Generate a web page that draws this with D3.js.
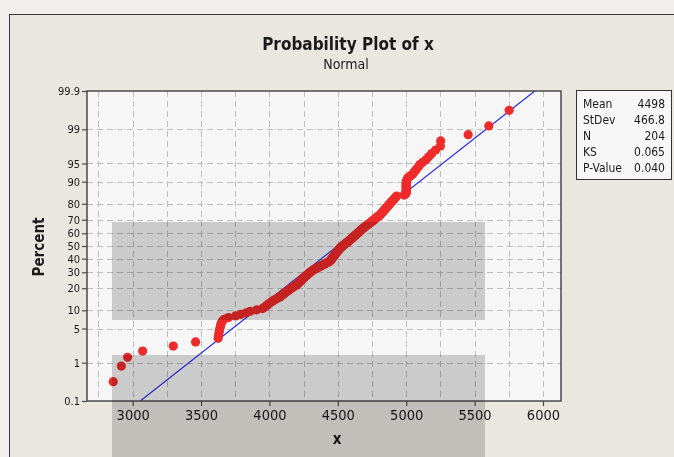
<!DOCTYPE html>
<html>
<head>
<meta charset="utf-8">
<script src="https://cdn.jsdelivr.net/npm/d3@7"></script>
<style>
  html, body { margin: 0; padding: 0; background: #f1efeb; }
  svg { display: block; }
  text { font-family: "DejaVu Sans Condensed", "DejaVu Sans", "Liberation Sans", sans-serif; fill: #1a1a1a; }
</style>
</head>
<body>
<svg id="chart" width="674" height="457"></svg>
<script>
// Sorted sample values of x (n = 204)
const xValues = [
  2858, 2917, 2963, 3073, 3297, 3460,
  3625, 3628, 3632, 3635, 3640, 3643, 3648, 3655, 3668,
  3700, 3752, 3790, 3830, 3858, 3905, 3950,
  3962, 3975, 3988, 3998, 4010, 4022, 4035, 4048, 4062, 4077,
  4085, 4095, 4104, 4112, 4122, 4131, 4140, 4150, 4158, 4168, 4177, 4188, 4199,
  4205, 4210, 4217, 4222, 4228, 4235, 4240, 4246, 4252, 4258,
  4264, 4270, 4275, 4281, 4288, 4294, 4300, 4306, 4313, 4320,
  4330, 4340, 4349, 4358, 4367, 4376, 4386, 4395, 4404, 4414, 4423, 4432, 4442,
  4445, 4449, 4452, 4456, 4459, 4463, 4466, 4470, 4474, 4477,
  4481, 4484, 4488, 4492, 4495, 4499, 4502, 4506, 4510, 4513,
  4515, 4521, 4527, 4532, 4538, 4543, 4549, 4554, 4560, 4566, 4571, 4577, 4582, 4588,
  4593, 4598, 4603, 4608, 4613, 4619, 4624, 4629, 4634, 4639,
  4645, 4650, 4655, 4660, 4665, 4670, 4675, 4681, 4686,
  4692, 4699, 4705, 4712, 4718, 4724, 4731, 4737, 4744, 4750,
  4756, 4763, 4769, 4776, 4782, 4789, 4795, 4801, 4808,
  4813, 4818, 4823, 4829, 4834, 4839, 4844, 4850, 4855, 4860, 4865, 4870, 4876, 4881,
  4887, 4893, 4899, 4905, 4912, 4918, 4924, 4930,
  4985, 4995, 5000, 5000, 5000, 5000, 5000, 5000, 5000, 5000, 5000, 5000, 5003, 5008, 5012,
  5030, 5045, 5055, 5065, 5076,
  5090, 5100,
  5120, 5145, 5165, 5185, 5215, 5250, 5252, 5453, 5604, 5753
];

// Fitted normal distribution
const fitMean = 4498;
const fitStDev = 466.8;

// Axis ticks
const xTicks = [3000, 3500, 4000, 4500, 5000, 5500, 6000];
const xGrid = [2750, 3000, 3250, 3500, 3750, 4000, 4250, 4500, 4750, 5000, 5250, 5500, 5750, 6000];
const percentTicks = [0.1, 1, 5, 10, 20, 30, 40, 50, 60, 70, 80, 90, 95, 99, 99.9];

// Summary table
const statLabels = ["Mean", "StDev", "N", "KS", "P-Value"];
const statValues = ["4498", "466.8", "204", "0.065", "0.040"];

// Inverse standard normal CDF (Acklam's rational approximation)
function qnorm(p) {
  const a = [-3.969683028665376e+01, 2.209460984245205e+02, -2.759285104469687e+02,
             1.383577518672690e+02, -3.066479806614716e+01, 2.506628277459239e+00];
  const b = [-5.447609879822406e+01, 1.615858368580409e+02, -1.556989798598866e+02,
             6.680131188771972e+01, -1.328068155288572e+01];
  const c = [-7.784894002430293e-03, -3.223964580411365e-01, -2.400758277161838e+00,
             -2.549732539343734e+00, 4.374664141464968e+00, 2.938163982698783e+00];
  const d = [7.784695709041462e-03, 3.224671290700398e-01, 2.445134137142996e+00,
             3.754408661907416e+00];
  const pl = 0.02425, ph = 1 - pl;
  let q, r;
  if (p < pl) {
    q = Math.sqrt(-2 * Math.log(p));
    return (((((c[0]*q+c[1])*q+c[2])*q+c[3])*q+c[4])*q+c[5]) / ((((d[0]*q+d[1])*q+d[2])*q+d[3])*q+1);
  }
  if (p <= ph) {
    q = p - 0.5; r = q * q;
    return (((((a[0]*r+a[1])*r+a[2])*r+a[3])*r+a[4])*r+a[5])*q / (((((b[0]*r+b[1])*r+b[2])*r+b[3])*r+b[4])*r+1);
  }
  q = Math.sqrt(-2 * Math.log(1 - p));
  return -(((((c[0]*q+c[1])*q+c[2])*q+c[3])*q+c[4])*q+c[5]) / ((((d[0]*q+d[1])*q+d[2])*q+d[3])*q+1);
}

const W = 674, H = 457;
const plot = { left: 87, right: 561, top: 91, bottom: 401 };

const svg = d3.select("#chart");

const x = d3.scaleLinear().domain([2666, 6132]).range([plot.left, plot.right]);
const y = d3.scaleLinear().domain([qnorm(0.001), qnorm(0.999)]).range([plot.bottom, plot.top]);

// Figure frame
svg.append("rect").attr("x", 0).attr("y", 0).attr("width", W).attr("height", H).attr("fill", "#f1efeb");
svg.append("rect").attr("x", 9.5).attr("y", 14.5).attr("width", W + 10).attr("height", H + 10)
  .attr("fill", "#eae7e1").attr("stroke", "#3a3a3a").attr("stroke-width", 1);

// Plot background
svg.append("rect").attr("x", plot.left).attr("y", plot.top)
  .attr("width", plot.right - plot.left).attr("height", plot.bottom - plot.top)
  .attr("fill", "#f6f6f6");

// Grid
const grid = svg.append("g").attr("stroke", "#bdbdbd").attr("stroke-width", 1).attr("stroke-dasharray", "6,4");
grid.selectAll("line.v").data(xGrid).join("line").attr("class", "v")
  .attr("x1", d => Math.round(x(d)) + 0.5).attr("x2", d => Math.round(x(d)) + 0.5)
  .attr("y1", plot.top).attr("y2", plot.bottom);
grid.selectAll("line.h").data(percentTicks.slice(1, -1)).join("line").attr("class", "h")
  .attr("x1", plot.left).attr("x2", plot.right)
  .attr("y1", d => Math.round(y(qnorm(d / 100))) + 0.5).attr("y2", d => Math.round(y(qnorm(d / 100))) + 0.5);

// Fitted line
const clip = svg.append("clipPath").attr("id", "plotClip").append("rect")
  .attr("x", plot.left).attr("y", plot.top)
  .attr("width", plot.right - plot.left).attr("height", plot.bottom - plot.top);
const zEnds = [qnorm(0.001), qnorm(0.999)];
svg.append("line")
  .attr("clip-path", "url(#plotClip)")
  .attr("x1", x(fitMean + fitStDev * zEnds[0])).attr("y1", y(zEnds[0]))
  .attr("x2", x(fitMean + fitStDev * zEnds[1])).attr("y2", y(zEnds[1]))
  .attr("stroke", "#2323f5").attr("stroke-width", 1.1);

// Data points at median-rank plotting positions
const n = xValues.length;
const pts = xValues.map((v, i) => ({ v, z: qnorm((i + 1 - 0.3) / (n + 0.4)) }));
svg.append("g").selectAll("circle").data(pts).join("circle")
  .attr("cx", d => x(d.v)).attr("cy", d => y(d.z)).attr("r", 4.6)
  .attr("fill", "#ef2a2a");

// Plot frame
svg.append("rect").attr("x", plot.left).attr("y", plot.top)
  .attr("width", plot.right - plot.left).attr("height", plot.bottom - plot.top)
  .attr("fill", "none").attr("stroke", "#4a4a4a").attr("stroke-width", 1.5);

// Axes
const xAxis = svg.append("g").attr("transform", `translate(0,${plot.bottom})`)
  .call(d3.axisBottom(x).tickValues(xTicks).tickSize(5).tickPadding(4).tickFormat(d3.format("d")));
xAxis.select(".domain").remove();
xAxis.selectAll("line").attr("stroke", "#4a4a4a").attr("stroke-width", 1.2);
xAxis.selectAll("text").attr("font-size", 14.5).attr("fill", "#1a1a1a");

const yAxis = svg.append("g").attr("transform", `translate(${plot.left},0)`)
  .call(d3.axisLeft(y).tickValues(percentTicks.map(p => qnorm(p / 100)))
    .tickSize(5).tickPadding(2).tickFormat((d, i) => String(percentTicks[i])));
yAxis.select(".domain").remove();
yAxis.selectAll("line").attr("stroke", "#4a4a4a").attr("stroke-width", 1.2);
yAxis.selectAll("text").attr("font-size", 11).attr("fill", "#1a1a1a");

// Titles
svg.append("text").attr("x", 348).attr("y", 50).attr("text-anchor", "middle")
  .attr("font-size", 17).attr("font-weight", "bold").text("Probability Plot of x");
svg.append("text").attr("x", 346).attr("y", 69).attr("text-anchor", "middle")
  .attr("font-size", 14).text("Normal");
svg.append("text").attr("x", 337).attr("y", 444).attr("text-anchor", "middle")
  .attr("font-size", 15).attr("font-weight", "bold").text("x");
svg.append("text").attr("transform", "translate(44,247) rotate(-90)").attr("text-anchor", "middle")
  .attr("font-size", 15).attr("font-weight", "bold").text("Percent");

// Summary table
const box = svg.append("g");
box.append("rect").attr("x", 576.5).attr("y", 90.5).attr("width", 95).attr("height", 89)
  .attr("fill", "#f7f7f7").attr("stroke", "#333").attr("stroke-width", 1);
statLabels.forEach((s, i) => {
  box.append("text").attr("x", 583).attr("y", 107.5 + i * 16).attr("font-size", 12).text(s);
  box.append("text").attr("x", 665).attr("y", 107.5 + i * 16).attr("font-size", 12)
    .attr("text-anchor", "end").text(statValues[i]);
});

// Translucent grey panels laid over the figure
const shade = svg.append("g").style("mix-blend-mode", "multiply").attr("pointer-events", "none");
shade.append("rect").attr("x", 112).attr("y", 222).attr("width", 373).attr("height", 98)
  .attr("fill", "#d3d3d3");
shade.append("rect").attr("x", 112).attr("y", 355).attr("width", 373).attr("height", 110)
  .attr("fill", "#d3d3d3");
</script>
</body>
</html>
